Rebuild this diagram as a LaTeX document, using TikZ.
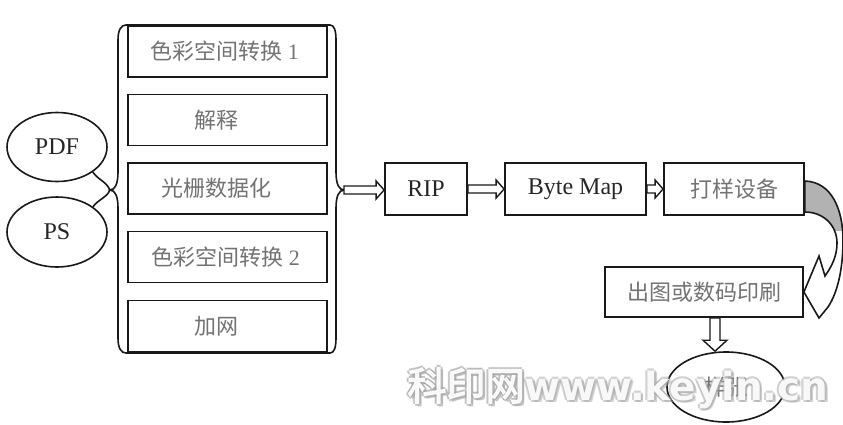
\documentclass[tikz,border=0pt]{standalone}
\usepackage{fontspec}
\setmainfont{Liberation Serif}
\newfontfamily\cjk{Noto Sans CJK SC}
\newfontfamily\wmcjk[FakeBold=3]{Noto Sans CJK SC}
\newfontfamily\wmlat{DejaVu Sans}
\usetikzlibrary{calc,shapes.geometric}
\newcommand\harrowx[2]{\draw[hollow] let \p1=(#1), \p2=(#2) in
  (\x1,\y1+4pt) -- (\x2-8pt,\y1+4pt) -- (\x2-8pt,\y1+9pt) -- (\x2,\y1) --
  (\x2-8pt,\y1-9pt) -- (\x2-8pt,\y1-4pt) -- (\x1,\y1-4pt) -- cycle;}
\newcommand\varrowx[2]{\draw[hollow] let \p1=(#1), \p2=(#2) in
  (\x1-5pt,\y1) -- (\x1-5pt,\y2+11pt) -- (\x1-12pt,\y2+11pt) -- (\x1,\y2) --
  (\x1+12pt,\y2+11pt) -- (\x1+5pt,\y2+11pt) -- (\x1+5pt,\y1) -- cycle;}
\begin{document}
\begin{tikzpicture}[x=1pt,y=-1pt,
  box/.style={draw=black!90, line width=1.8pt, fill=white, minimum height=51pt, inner sep=0pt},
  oval/.style={ellipse, draw=black!90, line width=1.6pt, inner sep=0pt},
  ctext/.style={font=\fontsize{22}{26}\selectfont, text=black!55},
  ltext/.style={font=\fontsize{24}{28}\selectfont, text=black!85},
  hollow/.style={draw=black!90, line width=1.4pt, fill=white, line join=miter},
  brace/.style={draw=black!90, line width=1.6pt},
]
\useasboundingbox (0,0) rectangle (843,424);
\fill[white] (0,0) rectangle (843,424);

% container with braces
\coordinate (bl) at (110,190);
\coordinate (br) at (344,190);
\draw[brace] (126,25) -- (330,25) .. controls (334,25) and (336,30) .. (336,40)
  -- (336,172) .. controls (336,184) and (339,190) .. (br)
  .. controls (339,190) and (336,196) .. (336,208) -- (336,338)
  .. controls (336,348) and (334,353) .. (330,353) -- (126,353)
  .. controls (121,353) and (118,348) .. (118,338) -- (118,208)
  .. controls (118,196) and (115,190) .. (bl)
  .. controls (115,190) and (118,184) .. (118,172) -- (118,40)
  .. controls (118,30) and (121,25) .. (126,25) -- cycle;

% inner boxes
\node[box, minimum width=199pt, ctext] (b1) at (227.5,51.5) {\hspace*{-6pt}{\cjk 色彩空间转换}~1};
\node[box, minimum width=199pt, ctext] (b2) at (227.5,120) {\hspace*{-22pt}{\cjk 解释}};
\node[box, minimum width=199pt, ctext] (b3) at (227.5,188.5) {\hspace*{-22pt}{\cjk 光栅数据化}};
\node[box, minimum width=199pt, ctext] (b4) at (227.5,257) {\hspace*{-4pt}{\cjk 色彩空间转换}~2};
\node[box, minimum width=199pt, ctext] (b5) at (227.5,326) {\hspace*{-22pt}{\cjk 加网}};

% inputs
\node[oval, ltext, minimum width=100pt, minimum height=69pt] (pdf) at (57,147) {PDF};
\node[oval, ltext, minimum width=100pt, minimum height=70pt] (ps) at (57,232) {PS};
\draw[brace] (pdf.-35) to[out=-55, in=115] (bl);
\draw[brace] (ps.35) to[out=55, in=-115] (bl);

% pipeline
\node[box, minimum width=82pt, minimum height=52pt, ltext] (rip) at (426,189) {RIP};
\node[box, minimum width=141pt, minimum height=52pt, ltext] (bmap) at (575.5,189) {Byte Map};
\node[box, minimum width=140pt, minimum height=52pt, ctext] (dev) at (734,189) {{\cjk 打样设备}};
\node[box, minimum width=198pt, minimum height=50pt, ctext] (out) at (704,292) {{\cjk 出图或数码印刷}};
\node[oval, ctext, minimum width=118pt, minimum height=70pt] (sample) at (726,387) {{\cjk 样张}};

\harrowx{br}{rip.west}
\harrowx{rip.east}{bmap.west}
\harrowx{bmap.east}{dev.west}
\varrowx{$(out.south)+(11,0)$}{sample.north}

% curved block arrow from dev to out
\coordinate (bo) at ($(dev.east)+(0,-8)$);
\coordinate (bi) at ($(dev.east)+(0,23)$);
\def\bandpath{(bo) .. controls (832,182) and (843,210) .. (843,240)
  .. controls (843,268) and (838,292) .. (828,307) -- (819,318) -- (out.east)
  -- (819,256) -- (825,276) .. controls (832,266) and (837,256) .. (837,243)
  .. controls (837,225) and (823,212) .. (bi) -- cycle}
\fill[white] \bandpath;
\begin{scope}
  \clip (790,170) rectangle (850,230);
  \fill[black!30] \bandpath;
\end{scope}
\draw[brace, line join=miter] \bandpath;

% watermark
\foreach \dx/\dy in {-2/0,2/0,0/-2,0/2,2.5/2.5} {
  \node[text=black!35, opacity=0.5, font=\fontsize{39}{41}\selectfont] at (618+\dx,388+\dy)
    {{\wmcjk 科印网}{\wmlat\bfseries www.keyin.cn}};
}
\node[text=white, opacity=0.92, font=\fontsize{39}{41}\selectfont] (wm) at (618,388)
  {{\wmcjk 科印网}{\wmlat\bfseries www.keyin.cn}};
\end{tikzpicture}
\end{document}
